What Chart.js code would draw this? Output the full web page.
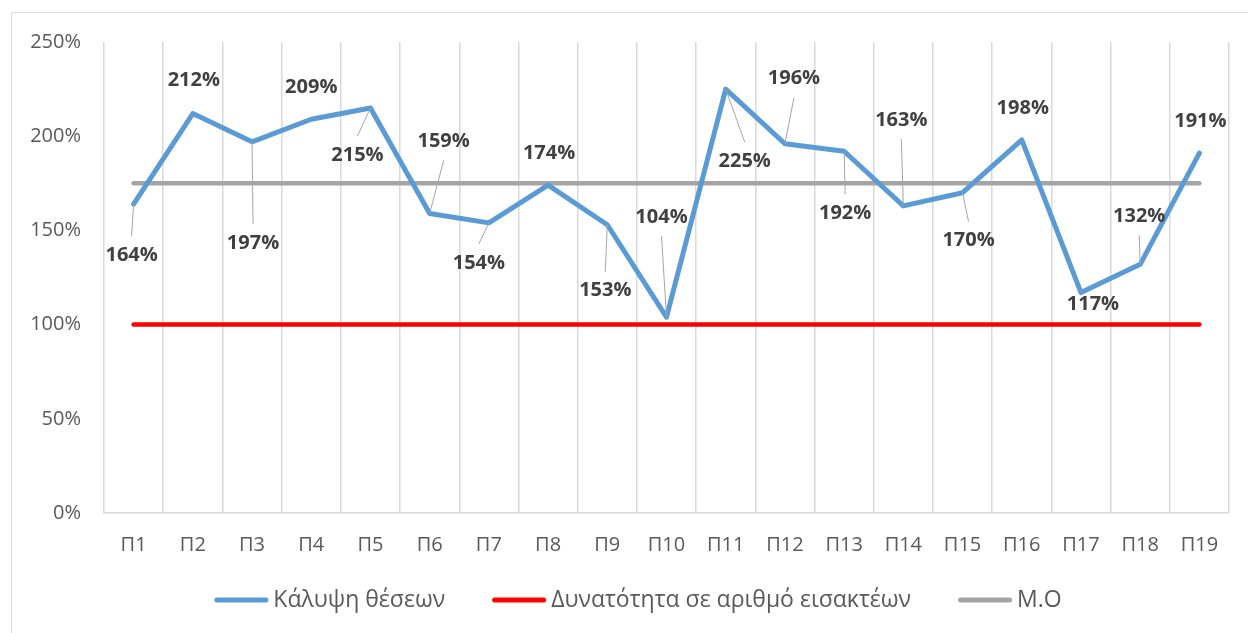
<!DOCTYPE html>
<html>
<head>
<meta charset="utf-8">
<script src="https://cdn.jsdelivr.net/npm/chart.js@4/dist/chart.umd.min.js"></script>
<style>
  html, body { margin: 0; padding: 0; background: #ffffff; }
  #wrap { width: 1248px; height: 633px; position: relative; }
</style>
</head>
<body>
<div id="wrap"><canvas id="chart" width="1248" height="633"></canvas></div>
<script>
// Categories and series
const categories = ['Π1','Π2','Π3','Π4','Π5','Π6','Π7','Π8','Π9','Π10','Π11','Π12','Π13','Π14','Π15','Π16','Π17','Π18','Π19'];
const coverage = [164, 212, 197, 209, 215, 159, 154, 174, 153, 104, 225, 196, 192, 163, 170, 198, 117, 132, 191];
const capacity = [100, 100, 100, 100, 100, 100, 100, 100, 100, 100, 100, 100, 100, 100, 100, 100, 100, 100, 100];
const average  = [175, 175, 175, 175, 175, 175, 175, 175, 175, 175, 175, 175, 175, 175, 175, 175, 175, 175, 175];
const yTicks = [0, 50, 100, 150, 200, 250];
const seriesNames = ['Κάλυψη θέσεων', 'Δυνατότητα σε αριθμό εισακτέων', 'Μ.Ο'];

// Label placement relative to each point: [dx, dy, leader line]
const labelPlacement = [
  [-2, 51, true], [1, -33, false], [1, 101, true], [0, -32, false], [-13, 47, true],
  [14, -72, true], [-10, 40, true], [1, -32, false], [-2, 66, true], [-5, -100, true],
  [19, 72, true], [9, -65, true], [1, 62, true], [-2, -86, true], [6, 48, true],
  [1, -32, false], [12, 12, false], [-1, -48, true], [1, -32, false]
];

const FONT = '"Open Sans", "Liberation Sans", sans-serif';

const framePlugin = {
  id: 'frame',
  beforeDraw(chart) {
    const ctx = chart.ctx;
    ctx.save();
    ctx.fillStyle = '#ffffff';
    ctx.fillRect(0, 0, chart.width, chart.height);
    ctx.strokeStyle = '#D9D9D9';
    ctx.lineWidth = 1;
    ctx.beginPath();
    ctx.moveTo(11.5, chart.height);
    ctx.lineTo(11.5, 12.5);
    ctx.lineTo(chart.width, 12.5);
    ctx.stroke();
    ctx.restore();
  }
};

const valueLabelPlugin = {
  id: 'valueLabels',
  afterDatasetsDraw(chart) {
    const ctx = chart.ctx;
    const meta = chart.getDatasetMeta(0);
    const values = chart.data.datasets[0].data;
    ctx.save();
    meta.data.forEach((pt, i) => {
      const [dx, dy, leader] = labelPlacement[i];
      const lx = pt.x + dx, ly = pt.y + dy;
      if (leader) {
        const sy = ly + (dy > 0 ? -19 : 19);
        ctx.strokeStyle = '#A6A6A6';
        ctx.lineWidth = 1;
        ctx.beginPath();
        ctx.moveTo(lx, sy);
        ctx.lineTo(pt.x, pt.y);
        ctx.stroke();
      }
    });
    ctx.fillStyle = '#404040';
    ctx.font = 'bold 20px ' + FONT;
    ctx.textAlign = 'center';
    ctx.textBaseline = 'middle';
    meta.data.forEach((pt, i) => {
      const [dx, dy] = labelPlacement[i];
      ctx.fillText(values[i] + '%', pt.x + dx, pt.y + dy);
    });
    ctx.restore();
  }
};

const legendPlugin = {
  id: 'bottomLegend',
  afterDraw(chart) {
    const ctx = chart.ctx;
    const lineLen = 54, textGap = 5, itemGap = 47, cy = 600, centerX = 638;
    ctx.save();
    ctx.font = '23px ' + FONT;
    const items = chart.data.datasets.map(ds => ({
      label: ds.label, color: ds.borderColor, w: ctx.measureText(ds.label).width
    }));
    const total = items.reduce((s, it) => s + lineLen + textGap + it.w, 0) + itemGap * (items.length - 1);
    let x = centerX - total / 2;
    items.forEach(it => {
      ctx.strokeStyle = it.color;
      ctx.lineWidth = 5;
      ctx.lineCap = 'round';
      ctx.beginPath();
      ctx.moveTo(x + 2.5, cy);
      ctx.lineTo(x + lineLen - 2.5, cy);
      ctx.stroke();
      ctx.fillStyle = '#595959';
      ctx.textAlign = 'left';
      ctx.textBaseline = 'middle';
      ctx.fillText(it.label, x + lineLen + textGap, cy);
      x += lineLen + textGap + it.w + itemGap;
    });
    ctx.restore();
  }
};

new Chart(document.getElementById('chart'), {
  type: 'line',
  data: {
    labels: categories,
    datasets: [
      { label: seriesNames[0], data: coverage, borderColor: '#5B9BD5', borderWidth: 5 },
      { label: seriesNames[1], data: capacity, borderColor: '#FF0000', borderWidth: 4.5 },
      { label: seriesNames[2], data: average, borderColor: '#A5A5A5', borderWidth: 4.5 }
    ]
  },
  options: {
    responsive: false,
    animation: false,
    devicePixelRatio: 1,
    layout: { padding: { top: 42, right: 19, left: 0, bottom: 0 } },
    elements: {
      line: { tension: 0, borderCapStyle: 'round', borderJoinStyle: 'round', fill: false },
      point: { radius: 0, hoverRadius: 0 }
    },
    plugins: { legend: { display: false }, tooltip: { enabled: false } },
    scales: {
      x: {
        offset: true,
        grid: { offset: true, color: '#D9D9D9', lineWidth: 1.5, drawTicks: false },
        border: { color: '#D9D9D9', width: 1.5 },
        ticks: { color: '#595959', font: { family: FONT, size: 20 }, padding: 20, maxRotation: 0, autoSkip: false },
        afterFit(scale) { scale.height = 120; }
      },
      y: {
        min: yTicks[0],
        max: yTicks[yTicks.length - 1],
        afterBuildTicks(scale) { scale.ticks = yTicks.map(v => ({ value: v })); },
        grid: { display: false, drawTicks: false },
        border: { display: false },
        ticks: { color: '#595959', font: { family: FONT, size: 20 }, padding: 23, callback: v => v + '%' },
        afterFit(scale) { scale.width = 104; }
      }
    }
  },
  plugins: [framePlugin, valueLabelPlugin, legendPlugin]
});
</script>
</body>
</html>
